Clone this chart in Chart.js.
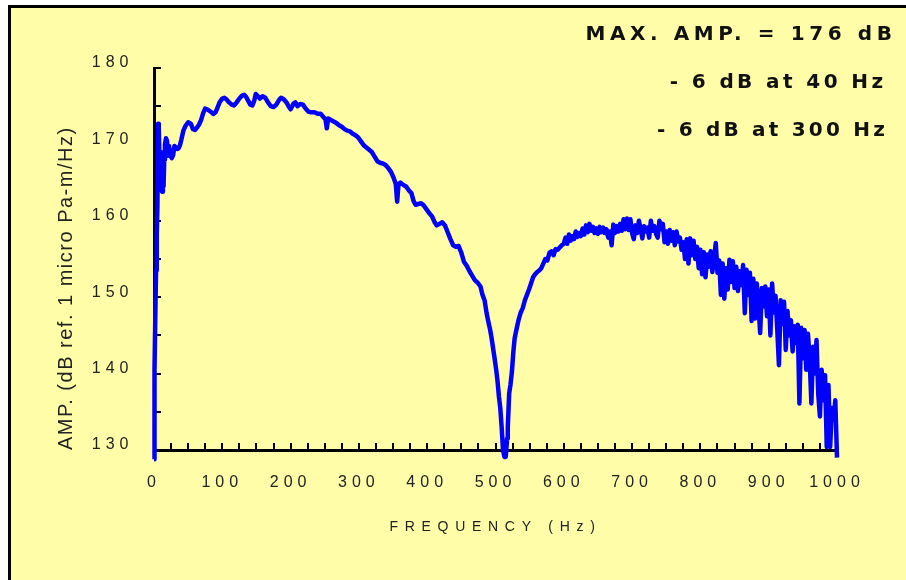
<!DOCTYPE html>
<html>
<head>
<meta charset="utf-8">
<script src="https://cdn.jsdelivr.net/npm/chart.js@4/dist/chart.umd.min.js"></script>
<style>
html,body{margin:0;padding:0;background:#fff;}
canvas{display:block;}
</style>
</head>
<body>
<canvas id="c" width="906" height="580"></canvas>
<script>
// ---- data ----
const FREQ_LOW = [0,0.5,1,2,3,4,5,6,7,8,9,10,11,12,13,14,15,16,17.5,19,20.5,22,24,26,28,30,32,34,36,38,40,43,46,50,54,57,60,63,66,69,72,75,78,81,84,87,90,93,96,100,103,106,110,114,117,121,125,129,132,135,138,141,144,147,149,152,155,159,163,167,171,175,179,183,186,190,194,197,200,204,207,210,214,218,222,226,230,235,240,244,248,251,253,255,259,263,267,271,275,279,283,287,291,295,299,303,307,311,315,319,323,327,331,335,339,343,347,351,354,356,358,361,365,369,373,377,380,383,387,391,395,399,403,407,411,414,418,422,426,430,434,438,442,446,450,454,458,462,466,470,474,478,481,484,487,490,492,494,497,499,501,503,505,507,509,511,513,515,517,518,520,522,524,526,528,531,534,537,540,543,546,549,552,555,558,561,564,567,570,573,576,579,582,585,588,591,594,597,600];
const AMP_LOW = [128.8,134,140.5,148,153.5,158,162,172.7,172,168,165,169,164,163.8,166,164.5,168,170,170.8,170.5,168.5,169.8,168.6,168.2,168.6,169.8,169.6,169.4,169.5,169.9,170.6,171.8,172.4,172.9,172.7,172.0,171.9,172.2,172.6,173.2,174.1,174.7,174.6,174.4,174.2,174.0,174.2,174.8,175.5,176.0,176.1,175.9,175.5,175.2,175.1,175.5,176.0,176.4,176.5,176.2,175.7,175.2,175.1,175.8,176.6,176.3,176.0,176.3,176.1,175.5,175.0,174.9,175.2,175.8,176.1,175.9,175.5,175.0,174.6,175.3,175.5,175.0,175.3,175.2,174.7,174.3,174.2,174.2,174.0,174.0,173.6,173.3,172.1,173.4,173.2,173.0,172.8,172.5,172.3,172.0,171.8,171.7,171.4,171.2,170.9,170.4,169.9,169.6,169.3,169.0,168.4,167.8,167.6,167.5,167.3,166.9,166.4,165.6,164.8,162.5,164.8,165.0,164.7,164.5,164.0,163.6,162.6,162.1,162.2,162.3,162.0,161.5,161.0,160.6,159.8,159.4,159.6,159.8,159.4,158.5,157.6,156.8,156.6,156.7,155.8,154.6,154.1,153.4,152.8,152.2,151.9,151.4,150.3,149.6,147.9,146.6,145.8,144.8,143.0,141.8,140.5,139.0,137.0,135.5,133.0,130.0,129.1,129.1,131.5,133.0,137.4,138.6,140.2,142.7,144.6,145.9,147.1,148.0,148.6,149.6,150.3,151.0,151.8,152.6,153.0,153.3,153.5,153.8,154.4,155.0,154.8,155.8,156.0,155.5,156.3,156.2,156.5,156.8,157.0];

const FREQ_HIGH = [602.5,605,607.5,610,612.5,615,617.5,620,622.5,625,627.5,630,632.5,635,637.5,640,642.5,645,647.5,650,652.5,655,657.5,660,662.5,665,667.5,670,672.5,675,677.5,680,682.5,685,687.5,690,692.5,695,697.5,700,
702.5,705,707.5,710,712.5,715,717.5,720,722.5,725,727.5,730,732.5,735,737.5,740,742.5,745,
747.5,750,752.5,755,757.5,760,762.5,765,767.5,770,772.5,775,
777.5,780,782.5,785,787.5,790,792.5,795,
797.5,800,802.5,805,807.5,810,812.5,815,817.5,820,
822.5,825,827.5,830,832.5,835,837.5,840,842.5,845,847.5,850,852.5,855,857.5,860,862.5,865,867.5,870,
872.5,875,877.5,880,882.5,885,887.5,890,892.5,895,897.5,900,902.5,905,907.5,910,912.5,915,917.5,920,922.5,925,927.5,930,932.5,935,937.5,940,942.5,945,947.5,950,952.5,955,957.5,960,962.5,965,967.5,970,972.5,975,977.5,980,982.5,985,987.5,990,992.5,995,997.5,1000];
const AMP_HIGH = [157.8,157.0,158.2,157.4,158.0,157.6,158.6,157.9,158.4,158.0,159.0,158.2,159.4,158.5,159.6,158.7,159.2,158.4,159.0,158.3,159.2,158.5,159.1,158.4,158.9,157.8,158.6,156.8,159.5,158.4,159.3,158.6,159.6,158.7,160.2,158.9,160.3,158.8,160.2,158.4,
157.6,159.4,158.4,160.0,158.9,157.7,159.3,158.6,159.1,157.8,160.0,158.7,159.3,158.3,157.8,160.0,158.9,159.6,
157.2,158.6,157.0,158.8,157.4,158.5,156.8,158.6,157.3,157.8,156.2,157.2,
155.0,157.6,154.4,157.7,155.5,157.4,155.0,156.6,
153.8,156.2,153.0,155.9,152.6,155.6,154.0,156.0,153.3,155.0,
157.1,153.2,154.8,150.3,154.4,149.8,153.8,151.0,154.9,152.0,154.7,151.2,154.0,150.8,153.4,151.6,154.2,147.9,153.6,150.3,
153.2,146.9,152.4,147.2,151.8,149.0,145.3,151.2,148.8,151.4,147.5,151.0,145.0,151.8,148.0,150.2,145.8,141.1,149.6,146.5,149.4,143.1,148.2,145.0,147.0,142.9,146.2,144.0,146.4,136.1,146.0,142.0,145.7,140.5,145.2,141.8,136.1,143.5,140.0,144.4,137.4,134.4,140.5,136.5,139.8,130.4,138.5,130.4,135.5,134.0,136.5,129.0];

const X_LABELS = ['0','100','200','300','400','500','600','700','800','900','1000'];
const Y_LABELS = ['130','140','150','160','170','180'];
const NOTES = ['MAX. AMP. = 176 dB', '- 6 dB at 40 Hz', '- 6 dB at 300 Hz'];
const X_TITLE = 'FREQUENCY (Hz)';
const Y_TITLE = 'AMP. (dB ref. 1 micro Pa-m/Hz)';

// ---- letter spacing for axis text ----
const SPACING = { x: { ticks: '5px', title: '6.7px' }, y: { ticks: '5px', title: '1.5px' } };
const SP = Chart.Scale.prototype;
const origLabels = SP.drawLabels, origTitle = SP.drawTitle;
SP.drawLabels = function (a) {
  const c = this.ctx; c.save();
  c.letterSpacing = (SPACING[this.id] || {}).ticks || '0px';
  origLabels.call(this, a); c.restore();
};
SP.drawTitle = function () {
  const c = this.ctx; c.save();
  c.letterSpacing = (SPACING[this.id] || {}).title || '0px';
  origTitle.call(this); c.restore();
};

const points = [];
FREQ_LOW.forEach((f, i) => points.push({ x: f, y: AMP_LOW[i] }));
FREQ_HIGH.forEach((f, i) => points.push({ x: f, y: AMP_HIGH[i] }));

const frame = {
  id: 'frame',
  beforeDraw(chart) {
    const c = chart.ctx; c.save();
    c.fillStyle = '#ffffff'; c.fillRect(0, 0, chart.width, chart.height);
    c.fillStyle = '#FFFDA8'; c.fillRect(8, 5, chart.width, chart.height);
    c.strokeStyle = '#000'; c.lineWidth = 3;
    c.strokeRect(9.5, 6.5, chart.width + 20, chart.height + 20);
    c.restore();
  }
};

const notes = {
  id: 'notes',
  afterDraw(chart) {
    const c = chart.ctx; c.save();
    c.font = 'bold 20px "DejaVu Sans", Verdana, sans-serif';
    c.fillStyle = '#111'; c.textAlign = 'right'; c.textBaseline = 'alphabetic';
    const xs = [896.5, 886.5, 888], ys = [40, 88, 136], sps = ['4.6px', '3.4px', '3.2px'];
    NOTES.forEach((t, i) => { c.letterSpacing = sps[i]; c.fillText(t, xs[i], ys[i]); });
    c.restore();
  }
};

const tickFont = { family: '"Liberation Sans", Arial, sans-serif', size: 16 };

new Chart(document.getElementById('c'), {
  type: 'line',
  data: {
    datasets: [{
      data: points,
      borderColor: '#0000FF',
      borderWidth: 4.5,
      borderJoinStyle: 'round',
      borderCapStyle: 'butt',
      pointRadius: 0,
      tension: 0,
      fill: false,
      clip: false
    }]
  },
  options: {
    responsive: false,
    animation: false,
    events: [],
    layout: { padding: { left: 0, top: 68, right: 69, bottom: 0 } },
    plugins: { legend: { display: false }, tooltip: { enabled: false } },
    scales: {
      x: {
        type: 'linear', min: 0, max: 1000,
        afterFit(s) { s.height = 130; },
        border: { display: true, color: '#000', width: 3 },
        grid: { drawOnChartArea: false, drawTicks: true, tickLength: -7, color: '#000', lineWidth: 2 },
        ticks: {
          stepSize: 25, autoSkip: false, maxRotation: 0, padding: 30,
          color: '#222', font: tickFont,
          callback: v => (v % 100 === 0 ? X_LABELS[v / 100] : '')
        },
        title: {
          display: true, text: X_TITLE, color: '#222',
          font: { family: '"Liberation Sans", Arial, sans-serif', size: 14 },
          padding: { top: 0, bottom: 44 }
        }
      },
      y: {
        type: 'linear', min: 130, max: 180,
        afterFit(s) { s.width = 154; },
        border: { display: true, color: '#000', width: 3 },
        grid: { drawOnChartArea: false, drawTicks: true, tickLength: -7, color: '#000', lineWidth: 2 },
        ticks: {
          stepSize: 5, autoSkip: false, padding: 27.5, labelOffset: -5,
          color: '#222', font: tickFont,
          callback: v => (v % 10 === 0 ? Y_LABELS[(v - 130) / 10] : '')
        },
        title: {
          display: true, text: Y_TITLE, align: 'start', color: '#222',
          font: { family: '"Liberation Sans", Arial, sans-serif', size: 20 },
          padding: { top: 54, bottom: 0 }
        }
      }
    }
  },
  plugins: [frame, notes]
});
</script>
</body>
</html>
